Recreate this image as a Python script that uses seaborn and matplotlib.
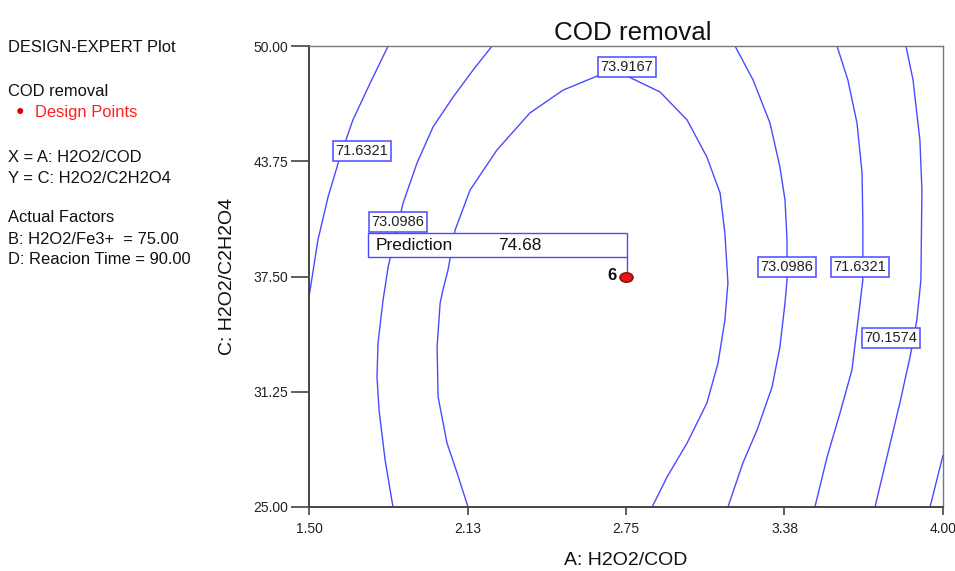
import matplotlib
matplotlib.use("Agg")
import matplotlib.pyplot as plt
from matplotlib.path import Path
import seaborn as sns
import pandas as pd

sns.set_theme(style="white")
plt.rcParams['font.family'] = ['Liberation Sans', 'DejaVu Sans']

# ---- data ----
x_ticks = [1.50, 2.125, 2.75, 3.375, 4.00]
x_tick_labels = ["1.50", "2.13", "2.75", "3.38", "4.00"]
y_ticks = [25.00, 31.25, 37.50, 43.75, 50.00]
y_tick_labels = ["25.00", "31.25", "37.50", "43.75", "50.00"]

# contour lines of COD removal (traced points, A on x, C on y)
c71_left_x = [1.812, 1.741, 1.673, 1.622, 1.575, 1.535, 1.500]
c71_left_y = [50.0, 47.99, 45.99, 43.98, 41.81, 39.48, 36.40]

c73_left_x = [2.222, 2.147, 2.068, 1.989, 1.926, 1.871, 1.839, 1.812, 1.792, 1.772, 1.768, 1.776, 1.800, 1.831]
c73_left_y = [50.0, 48.70, 47.23, 45.61, 43.66, 41.49, 39.64, 38.02, 36.23, 33.89, 32.05, 30.26, 27.55, 25.0]

c739_x = [2.127, 2.084, 2.044, 2.009, 2.005, 2.017, 2.028, 2.048, 2.076, 2.135, 2.241, 2.371, 2.502, 2.636,
          2.695, 2.754, 2.884, 2.991, 3.069, 3.121, 3.140, 3.152, 3.140, 3.113, 3.069, 2.991, 2.912, 2.853]
c739_y = [25.0, 26.84, 28.47, 30.97, 33.68, 36.06, 36.77, 37.85, 40.02, 42.19, 44.36, 46.37, 47.61, 48.37,
          48.43, 48.37, 47.51, 45.99, 43.98, 42.03, 39.86, 37.15, 35.14, 32.81, 30.64, 28.47, 26.63, 25.0]

c73_right_x = [3.180, 3.251, 3.318, 3.357, 3.377, 3.385, 3.385, 3.377, 3.357, 3.326, 3.267, 3.211, 3.152]
c73_right_y = [50.0, 48.16, 45.82, 43.44, 41.65, 39.48, 37.31, 36.06, 33.68, 31.51, 29.18, 27.39, 25.0]

c71_right_x = [3.582, 3.625, 3.661, 3.681, 3.684, 3.684, 3.665, 3.641, 3.594, 3.543, 3.495]
c71_right_y = [50.0, 48.16, 45.82, 43.11, 40.40, 37.31, 35.14, 32.43, 30.10, 27.71, 25.0]

c70_x = [3.854, 3.882, 3.909, 3.917, 3.913, 3.897, 3.870, 3.830, 3.779, 3.732]
c70_y = [50.0, 48.16, 44.90, 42.19, 37.31, 35.14, 33.13, 30.64, 27.71, 25.0]

c68_x = [3.949, 4.000]
c68_y = [25.0, 27.8]

contour_labels = ["71.6321", "73.0986", "73.9167", "73.0986", "71.6321", "70.1574"]
label_x = [1.709, 1.851, 2.754, 3.385, 3.673, 3.795]
label_y = [44.31, 40.46, 48.86, 38.02, 38.02, 34.16]

design_x = [2.75]
design_y = [37.50]
design_count = ["6"]
prediction_value = 74.68

# ---- build long table ----
segments = [
    ("71.6321 L", c71_left_x, c71_left_y),
    ("73.0986 L", c73_left_x, c73_left_y),
    ("73.9167", c739_x, c739_y),
    ("73.0986 R", c73_right_x, c73_right_y),
    ("71.6321 R", c71_right_x, c71_right_y),
    ("70.1574", c70_x, c70_y),
    ("68.69", c68_x, c68_y),
]
rows = []
for name, xs, ys in segments:
    for i, (xx, yy) in enumerate(zip(xs, ys)):
        rows.append({"seg": name, "order": i, "x": xx, "y": yy})
df = pd.DataFrame(rows)

blue = "#4a4aff"

fig = plt.figure(figsize=(9.55, 5.71), dpi=100)
ax = fig.add_axes([0.3236, 0.1121, 0.6638, 0.8073])

for name, g in df.groupby("seg", sort=False):
    sns.lineplot(data=g, x="x", y="y", sort=False, estimator=None, ax=ax,
                 color=blue, linewidth=1.0, legend=False)

for lab, lx, ly in zip(contour_labels, label_x, label_y):
    ax.text(lx, ly, lab, ha="center", va="center", fontsize=10.5, color="#222222",
            bbox=dict(boxstyle="square,pad=0.2", fc="white", ec=blue, lw=1.1), zorder=5)

# prediction flag
ax.plot([2.754, 2.754], [38.56, 37.5], color=blue, lw=1.0, zorder=4)
ax.add_patch(plt.Rectangle((1.733, 38.56), 2.754 - 1.733, 39.86 - 38.56, fill=True,
                           fc="white", ec=blue, lw=1.0, zorder=4))
ax.text(1.762, 39.19, "Prediction", ha="left", va="center", fontsize=12.5, color="#111111", zorder=6)
ax.text(2.245, 39.19, f"{prediction_value:.2f}", ha="left", va="center", fontsize=12.5,
        color="#111111", zorder=6)

circ = Path.unit_circle()
ellipse = Path(circ.vertices * [1.0, 0.72], circ.codes)
sns.scatterplot(x=design_x, y=design_y, ax=ax, s=90, marker=ellipse, color="#ee1111",
                edgecolor="#771111", linewidth=1.0, zorder=7, legend=False)
for dx, dy, c in zip(design_x, design_y, design_count):
    ax.text(dx - 0.038, dy + 0.05, c, ha="right", va="center", fontsize=12, color="#111111",
            fontweight="bold", zorder=7)

ax.set_xlim(1.5, 4.0)
ax.set_ylim(25, 50)
ax.set_xticks(x_ticks)
ax.set_xticklabels(x_tick_labels, fontsize=10, color="#222222")
ax.set_yticks(y_ticks)
ax.set_yticklabels(y_tick_labels, fontsize=10, color="#222222")
ax.tick_params(axis="y", direction="out", length=13, width=1.2, color="#444444", pad=2, left=True)
ax.tick_params(axis="x", direction="out", length=6, width=1.2, color="#444444", pad=5, bottom=True)
for side in ["left", "bottom"]:
    ax.spines[side].set_color("#444444")
    ax.spines[side].set_linewidth(1.4)
for side in ["top", "right"]:
    ax.spines[side].set_color("#777777")
    ax.spines[side].set_linewidth(1.0)
ax.set_xlabel("A: H2O2/COD", fontsize=14, color="#111111", va="center")
ax.set_ylabel("C: H2O2/C2H2O4", fontsize=14, color="#111111", va="center")
ax.xaxis.set_label_coords(0.5, -0.115)
ax.yaxis.set_label_coords(-0.128, 0.5)
ax.set_title("COD removal", fontsize=18.7, color="#111111", pad=4, x=0.51)
ax.grid(False)

# left info block
fs = 11.9
fig.text(8 / 955, 1 - 47 / 571, "DESIGN-EXPERT Plot", fontsize=fs, va="center", ha="left", color="#111111")
fig.text(8 / 955, 1 - 91 / 571, "COD removal", fontsize=fs, va="center", ha="left", color="#111111")
fig.text(35 / 955, 1 - 112 / 571, "Design Points", fontsize=fs, va="center", ha="left", color="#ff2020")
fig.text(20 / 955, 1 - 111 / 571, "\u25CF", fontsize=10, va="center", ha="center", color="#dd0000")
fig.text(8 / 955, 1 - 157 / 571, "X = A: H2O2/COD", fontsize=fs, va="center", ha="left", color="#111111")
fig.text(8 / 955, 1 - 178 / 571, "Y = C: H2O2/C2H2O4", fontsize=fs, va="center", ha="left", color="#111111")
fig.text(8 / 955, 1 - 217 / 571, "Actual Factors", fontsize=fs, va="center", ha="left", color="#111111")
fig.text(8 / 955, 1 - 239 / 571, "B: H2O2/Fe3+  = 75.00", fontsize=fs, va="center", ha="left", color="#111111")
fig.text(8 / 955, 1 - 260 / 571, "D: Reacion Time = 90.00", fontsize=fs, va="center", ha="left", color="#111111")

fig.savefig("out.png", dpi=100)
